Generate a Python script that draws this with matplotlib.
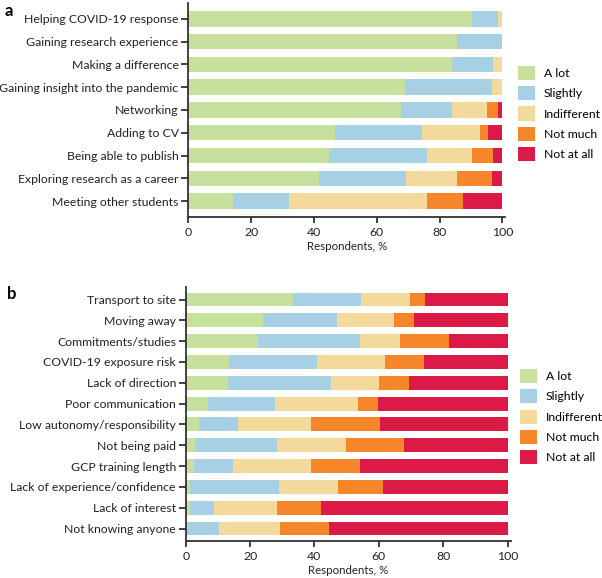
import matplotlib.pyplot as plt
import numpy as np

plt.rcParams['font.family'] = ['Lato', 'DejaVu Sans']

levels = ['A lot', 'Slightly', 'Indifferent', 'Not much', 'Not at all']
colors = ['#c8e09e', '#a8d0e4', '#f3d99c', '#f5862a', '#db1a48']

# panel a: motivations (cumulative read-off converted to segment shares)
cats_a = ['Helping COVID-19 response', 'Gaining research experience', 'Making a difference',
          'Gaining insight into the pandemic', 'Networking', 'Adding to CV',
          'Being able to publish', 'Exploring research as a career', 'Meeting other students']
a_lot_a = [90.4, 85.6, 84.0, 69.0, 67.6, 46.7, 44.8, 41.6, 14.3]
slightly_a = [8.1, 14.4, 13.0, 27.7, 16.4, 27.6, 31.1, 27.6, 17.8]
indiff_a = [1.5, 0.0, 3.0, 3.3, 11.1, 18.5, 14.5, 16.3, 43.9]
notmuch_a = [0.0, 0.0, 0.0, 0.0, 3.5, 2.5, 6.7, 11.3, 11.4]
notatall_a = [0.0, 0.0, 0.0, 0.0, 1.4, 4.7, 2.9, 3.2, 12.6]

# panel b: barriers
cats_b = ['Transport to site', 'Moving away', 'Commitments/studies', 'COVID-19 exposure risk',
          'Lack of direction', 'Poor communication', 'Low autonomy/responsibility',
          'Not being paid', 'GCP training length', 'Lack of experience/confidence',
          'Lack of interest', 'Not knowing anyone']
a_lot_b = [33.4, 24.0, 22.4, 13.4, 13.2, 7.0, 4.1, 2.9, 2.5, 1.2, 1.2, 0.0]
slightly_b = [21.0, 22.9, 31.7, 27.3, 31.9, 20.8, 12.1, 25.4, 12.3, 27.8, 7.7, 10.4]
indiff_b = [15.2, 17.9, 12.4, 21.2, 15.0, 25.8, 22.8, 21.4, 24.1, 18.4, 19.5, 18.9]
notmuch_b = [4.7, 6.1, 15.3, 12.2, 9.3, 6.0, 21.3, 18.2, 15.2, 13.8, 13.7, 15.2]
notatall_b = [25.7, 29.1, 18.2, 25.9, 30.6, 40.4, 39.7, 32.1, 45.9, 38.8, 57.9, 55.5]

fig = plt.figure(figsize=(6.02, 5.78), dpi=100)
ax_a = fig.add_axes([0.3128, 0.6246, 0.5268, 0.3702])
ax_b = fig.add_axes([0.3085, 0.0640, 0.5400, 0.4394])

FS = 8.8


def draw(ax, cats, series, hfrac, ylim, legend_xy):
    y = np.arange(len(cats))
    left = np.zeros(len(cats))
    for vals, col, lab in zip(series, colors, levels):
        vals = np.array(vals)
        ax.barh(y, vals, left=left, height=hfrac, color=col, label=lab, linewidth=0)
        left += vals
    ax.set_yticks(y)
    ax.set_yticklabels(cats, fontsize=FS, color='#222222')
    ax.set_ylim(*ylim)
    ax.set_xlim(0, 101)
    ax.set_xticks([0, 20, 40, 60, 80, 100])
    ax.tick_params(axis='x', labelsize=FS, colors='#222222', length=4, width=1.2)
    ax.tick_params(axis='y', length=5, width=1.2, colors='#222222', pad=2)
    for s in ['top', 'right']:
        ax.spines[s].set_visible(False)
    for s in ['left', 'bottom']:
        ax.spines[s].set_linewidth(1.3)
        ax.spines[s].set_color('#333333')
    ax.set_xlabel('Respondents, %', fontsize=8.3, color='#222222', labelpad=2)
    ax.legend(loc='upper left', bbox_to_anchor=legend_xy, frameon=False, fontsize=FS,
              handlelength=1.4, handleheight=1.4, handletextpad=0.7, labelspacing=0.5)


draw(ax_a, cats_a, [a_lot_a, slightly_a, indiff_a, notmuch_a, notatall_a], 0.68, (8.7, -0.7), (1.005, 0.757))
draw(ax_b, cats_b, [a_lot_b, slightly_b, indiff_b, notmuch_b, notatall_b], 0.67, (11.6, -0.6), (0.995, 0.72))

fig.text(0.008, 0.995, 'a', fontsize=12, fontweight='bold', va='top')
fig.text(0.012, 0.505, 'b', fontsize=12, fontweight='bold', va='top')

fig.savefig('out.png', dpi=100)
